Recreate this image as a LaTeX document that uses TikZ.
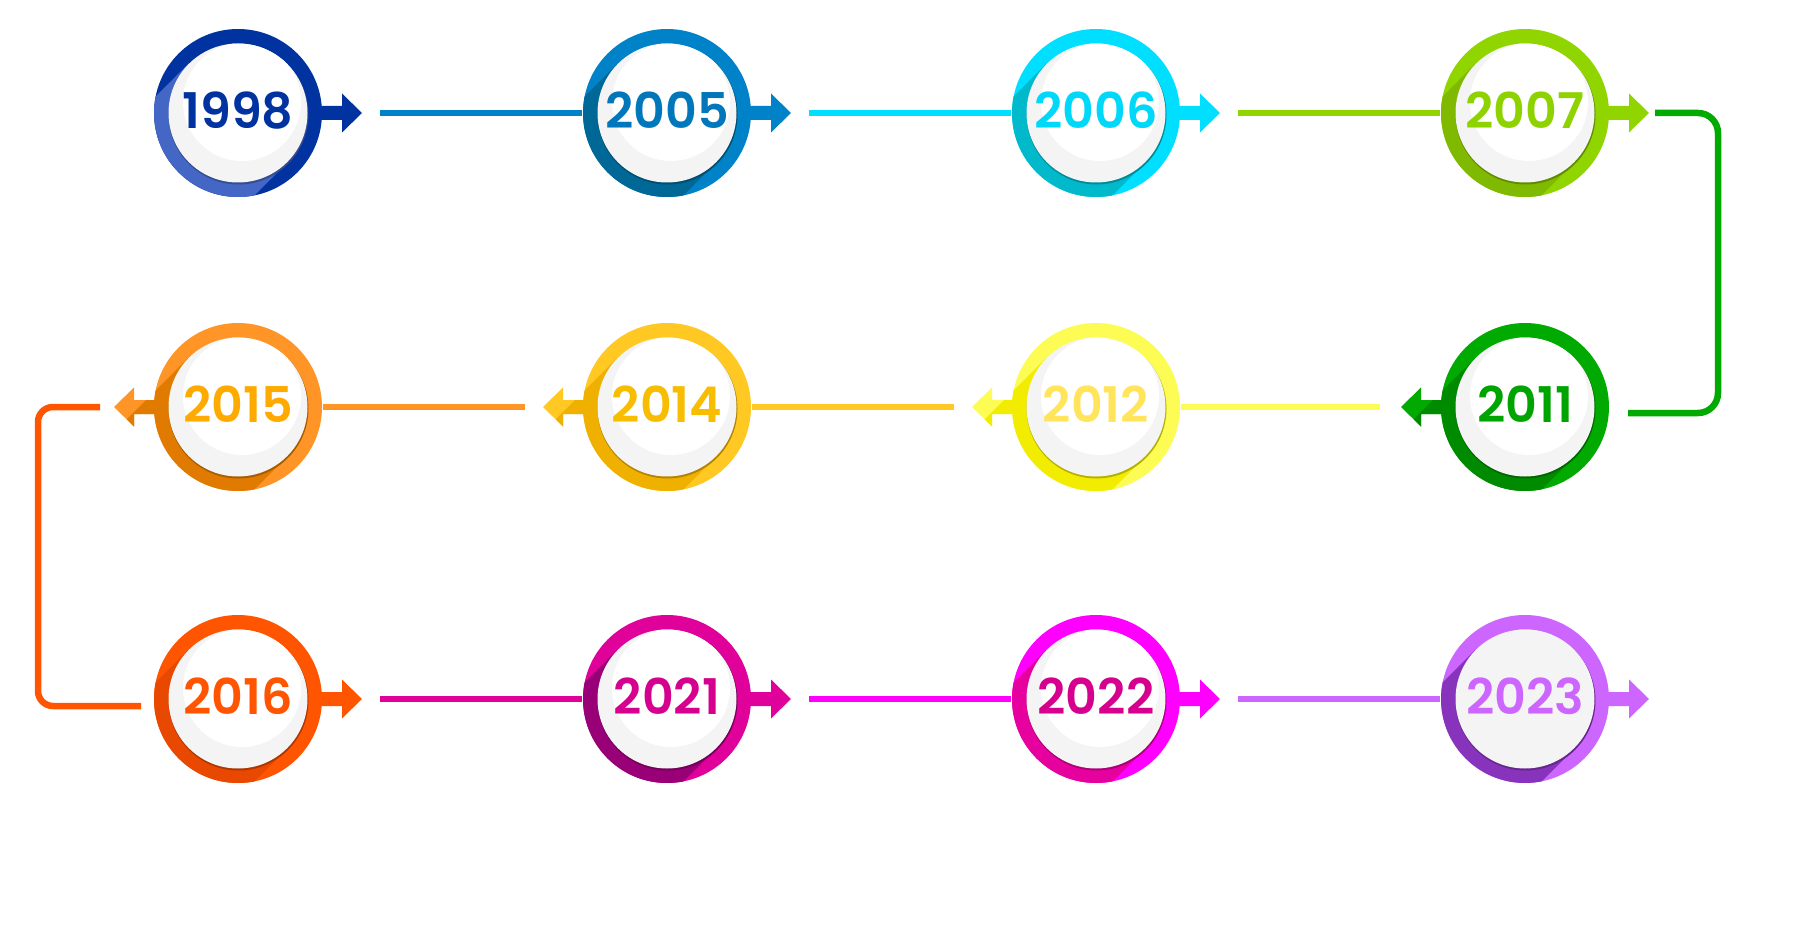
\documentclass[tikz,border=0pt]{standalone}
\usepackage{fontspec}
\newfontfamily\yearfont{Poppins SemiBold}
\usetikzlibrary{calc}
\usepackage{xcolor}
%% ring / long shadow / year colours
\definecolor{ring1998}{HTML}{0033A0}\definecolor{shade1998}{HTML}{4466C4}\definecolor{text1998}{HTML}{0033A0}
\definecolor{ring2005}{HTML}{0082C8}\definecolor{shade2005}{HTML}{006896}\definecolor{text2005}{HTML}{0077BB}
\definecolor{ring2006}{HTML}{00DFFF}\definecolor{shade2006}{HTML}{00BACC}\definecolor{text2006}{HTML}{00D8FA}
\definecolor{ring2007}{HTML}{90D400}\definecolor{shade2007}{HTML}{80BA00}\definecolor{text2007}{HTML}{8ED200}
\definecolor{ring2011}{HTML}{00AA00}\definecolor{shade2011}{HTML}{008A00}\definecolor{text2011}{HTML}{00A400}
\definecolor{ring2012}{HTML}{FCFC55}\definecolor{shade2012}{HTML}{F2EC00}\definecolor{text2012}{HTML}{FFE45C}
\definecolor{ring2014}{HTML}{FFC823}\definecolor{shade2014}{HTML}{F0B000}\definecolor{text2014}{HTML}{F8BC00}
\definecolor{ring2015}{HTML}{FF9526}\definecolor{shade2015}{HTML}{E07A00}\definecolor{text2015}{HTML}{FFAA00}
\definecolor{ring2016}{HTML}{FF5500}\definecolor{shade2016}{HTML}{E84800}\definecolor{text2016}{HTML}{FF5500}
\definecolor{ring2021}{HTML}{E0009A}\definecolor{shade2021}{HTML}{990077}\definecolor{text2021}{HTML}{D6008F}
\definecolor{ring2022}{HTML}{FF00FF}\definecolor{shade2022}{HTML}{E6009E}\definecolor{text2022}{HTML}{D6008F}
\definecolor{ring2023}{HTML}{CC66FF}\definecolor{shade2023}{HTML}{8833BB}\definecolor{text2023}{HTML}{CC66FF}
\definecolor{innergray}{HTML}{F4F4F5}
\tikzset{
  yearball/.style={circle, minimum size=16.8mm, inner sep=0pt, text depth=0.6mm,
                   font=\yearfont\fontsize{14}{16}\selectfont},
  link/.style={line width=0.65mm},
}

\begin{document}
\begin{tikzpicture}[x=0.1mm, y=0.1mm]
  \fill[white] (0,0) rectangle (1801,945);
  \useasboundingbox (0,0) rectangle (1801,945);

  %% year balls with their arrows
  \foreach \yr/\px/\py/\dir/\hl in {1998/238/832/1/white, 2005/667/832/1/white,
      2006/1096/832/1/white, 2007/1525/832/1/white,
      2011/1525/538/-1/white, 2012/1096/538/-1/white,
      2014/667/538/-1/white, 2015/238/538/-1/white,
      2016/238/246/1/white, 2021/667/246/1/white,
      2022/1096/246/1/white, 2023/1525/246/1/innergray}{
    \begin{scope}[shift={(\px,\py)}]
      \fill[ring\yr] (0,0) circle (84);
      \fill[ring\yr] ({\dir*80},7) -- ({\dir*104},7) -- ({\dir*104},19.5) -- ({\dir*124},0)
        -- ({\dir*104},-19.5) -- ({\dir*104},-7) -- ({\dir*80},-7) -- cycle;
      %% long shadow
      \begin{scope}
        \clip (0,0) circle (84);
        \fill[shade\yr, rotate=45] (-200,-70) rectangle (0,70);
      \end{scope}
      \begin{scope}
        \clip ({\dir*80},7) -- ({\dir*104},7) -- ({\dir*104},19.5) -- ({\dir*124},0)
          -- ({\dir*104},-19.5) -- ({\dir*104},-7) -- ({\dir*80},-7) -- cycle;
        \fill[shade\yr, rotate=45] (-200,-70) rectangle (0,70);
      \end{scope}
      %% inner disc
      \fill[shade\yr!75!black] (0.5,-1.5) circle (70);
      \fill[innergray] (0,0) circle (69.5);
      \begin{scope}
        \clip (0,0) circle (69.5);
        \fill[\hl] (4,11) circle (59);
      \end{scope}
    \end{scope}
    \node[yearball, text=text\yr] (n\yr) at (\px,\py) {\yr};
  }

  %% top row
  \draw[link, ring2005] ($(n1998)+(142,0)$) -- (n2005.west);
  \draw[link, ring2006] ($(n2005)+(142,0)$) -- (n2006.west);
  \draw[link, ring2007] ($(n2006)+(142,0)$) -- (n2007.west);
  \draw[link, ring2011, rounded corners=2mm] ($(n2007)+(130,0)$) -- ($(n2007)+(193,0)$)
    |- ($(n2011)+(103,-6)$);

  %% middle row
  \draw[link, ring2012] ($(n2011)+(-145,0)$) -- (n2012.east);
  \draw[link, ring2014] ($(n2012)+(-142,0)$) -- (n2014.east);
  \draw[link, ring2015] ($(n2014)+(-142,0)$) -- (n2015.east);
  \draw[link, ring2016, rounded corners=1.5mm] ($(n2015)+(-138,0)$) -- ($(n2015)+(-200,0)$)
    |- ($(n2016)+(-97,-7)$);

  %% bottom row
  \draw[link, ring2021] ($(n2016)+(142,0)$) -- (n2021.west);
  \draw[link, ring2022] ($(n2021)+(142,0)$) -- (n2022.west);
  \draw[link, ring2023] ($(n2022)+(142,0)$) -- (n2023.west);
\end{tikzpicture}
\end{document}
